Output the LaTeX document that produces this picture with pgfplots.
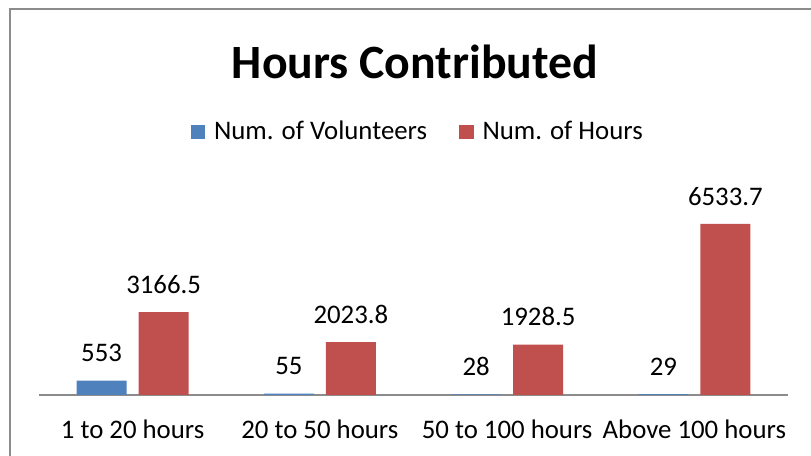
\documentclass[border=0pt]{standalone}
\usepackage{pgfplots}
\pgfplotsset{compat=1.18}
\usepackage{fontspec}
\setmainfont{Carlito}

\definecolor{volblue}{RGB}{79,129,189}
\definecolor{hrsred}{RGB}{192,80,77}
\definecolor{framegray}{RGB}{140,140,140}

\begin{document}
\begin{tikzpicture}
% page = 811 x 456 px, 1 px = 0.5pt
\path[use as bounding box] (0,0) rectangle (405.5pt,228pt);
\draw[framegray, line width=1pt] (4.75pt,-10pt) -- (4.75pt,223.25pt) -- (420pt,223.25pt);

\node[font=\fontsize{23.9}{28}\selectfont\bfseries] at (207.5pt,197pt) {Hours Contributed};

\begin{axis}[
    at={(19.5pt,30.5pt)}, anchor=south west,
    scale only axis,
    width=374.5pt, height=91.6pt,
    ybar=6pt, bar width=25pt,
    xmin=-0.5, xmax=3.5,
    ymin=0, ymax=7000,
    axis y line=none,
    axis x line*=bottom,
    x axis line style={framegray, line width=0.8pt, -},
    xtick={0,1,2,3},
    xticklabels={1 to 20 hours, 20 to 50 hours, 50 to 100 hours, Above 100 hours},
    major tick length=0pt,
    xticklabel style={font=\fontsize{13.4}{15}\selectfont, anchor=north, inner sep=0pt, yshift=-12pt},
    point meta=explicit symbolic,
    nodes near coords={\pgfplotspointmeta},
    every node near coord/.append style={font=\fontsize{13.4}{15}\selectfont, anchor=south, inner sep=0pt, yshift=9pt, text=black},
    legend columns=2,
    legend style={at={(0.507,1.435)}, anchor=center, draw=none, fill=none,
        font=\fontsize{13.4}{15}\selectfont,
        /tikz/every odd column/.append style={column sep=2.5pt},
        /tikz/every even column/.append style={column sep=14pt}},
    legend image code/.code={\fill[#1] (0pt,-3.6pt) rectangle (7.2pt,3.6pt);},
]
\addplot[fill=volblue, draw=none] coordinates {
    (0,553) [553]
    (1,55) [55]
    (2,28) [28]
    (3,29) [29]
};
\addlegendentry{Num. of Volunteers}
\addplot[fill=hrsred, draw=none] coordinates {
    (0,3166.5) [3166.5]
    (1,2023.8) [2023.8]
    (2,1928.5) [1928.5]
    (3,6533.7) [6533.7]
};
\addlegendentry{Num. of Hours}
\end{axis}
\end{tikzpicture}
\end{document}
